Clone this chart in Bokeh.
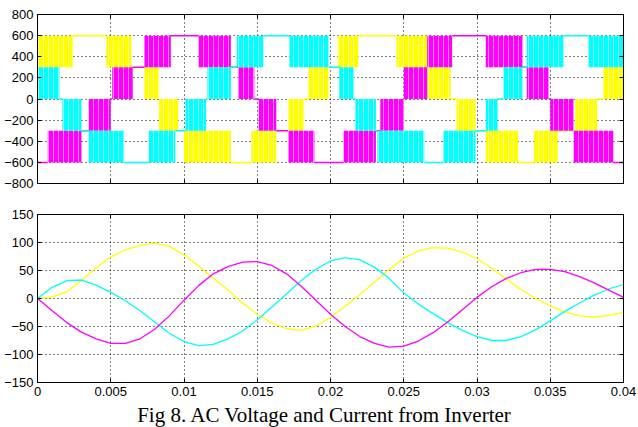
from bokeh.plotting import figure
from bokeh.models import Range1d, FixedTicker, LinearAxis, Div
from bokeh.layouts import column
from bokeh.embed import file_html
from bokeh.resources import INLINE

# ---------------- data ----------------
x_ticks = [0, 0.005, 0.01, 0.015, 0.02, 0.025, 0.03, 0.035, 0.04]
x_tick_labels = ["0", "0.005", "0.01", "0.015", "0.02", "0.025", "0.03", "0.035", "0.04"]
v_ticks = [-800, -600, -400, -200, 0, 200, 400, 600, 800]
i_ticks = [-150, -100, -50, 0, 50, 100, 150]

# Inverter phase voltages: switching bands (lo != hi) and flat levels (lo == hi)
yellow_edges = [0, 0.0024, 0.0047, 0.0064, 0.0073, 0.0083, 0.0096, 0.0100, 0.0132, 0.0146,
                0.0163, 0.0171, 0.0182, 0.0185, 0.0199, 0.0205, 0.0219, 0.0245, 0.0266, 0.0282,
                0.0286, 0.0299, 0.0306, 0.0328, 0.0339, 0.0355, 0.0367, 0.0382, 0.0386, 0.0400]
yellow_lo = [300, 600, 300, 300, 0, -300, -300, -600, -600, -600,
             -300, -300, 0, 0, 300, 300, 600, 300, 0, 0,
             -300, -300, -600, -600, -600, -300, -300, 0, 0]
yellow_hi = [600, 600, 600, 300, 300, 0, -300, -300, -600, -300,
             -300, 0, 0, 300, 300, 600, 600, 600, 300, 0,
             0, -300, -300, -600, -300, -300, 0, 0, 300]

magenta_edges = [0, 0.0007, 0.0030, 0.0035, 0.0050, 0.0051, 0.0065, 0.0073, 0.0091, 0.0110,
                 0.0132, 0.0137, 0.0148, 0.0151, 0.0163, 0.0171, 0.0189, 0.0209, 0.0231, 0.0234,
                 0.0250, 0.0266, 0.0283, 0.0306, 0.0331, 0.0334, 0.0349, 0.0350, 0.0366, 0.0393,
                 0.0400]
magenta_lo = [-600, -600, -300, -300, 0, 0, 300, 300, 600, 300,
              300, 0, 0, -300, -300, -600, -600, -600, -300, -300,
              0, 300, 600, 300, 300, 0, 0, -300, -600, -600]
magenta_hi = [-600, -300, -300, 0, 0, 300, 300, 600, 600, 600,
              300, 300, 0, 0, -300, -300, -600, -300, -300, 0,
              300, 600, 600, 600, 300, 300, 0, 0, -300, -600]

cyan_edges = [0, 0.0015, 0.0017, 0.0030, 0.0035, 0.0059, 0.0076, 0.0094, 0.0101, 0.0115,
              0.0116, 0.0132, 0.0136, 0.0154, 0.0172, 0.0199, 0.0206, 0.0216, 0.0217, 0.0231,
              0.0232, 0.0264, 0.0277, 0.0299, 0.0306, 0.0314, 0.0318, 0.0331, 0.0334, 0.0359,
              0.0376, 0.0400]
cyan_lo = [0, 0, -300, -300, -600, -600, -600, -300, -300, 0,
           0, 300, 300, 600, 300, 300, 0, 0, -300, -300,
           -600, -600, -600, -300, -300, 0, 0, 300, 300, 600,
           300]
cyan_hi = [300, 0, 0, -300, -300, -600, -300, -300, 0, 0,
           300, 300, 600, 600, 600, 300, 300, 0, 0, -300,
           -300, -600, -300, -300, 0, 0, 300, 300, 600, 600,
           600]

# Inverter phase currents
time = [0.000, 0.001, 0.002, 0.003, 0.004, 0.005, 0.006, 0.007, 0.008, 0.009,
        0.010, 0.011, 0.012, 0.013, 0.014, 0.015, 0.016, 0.017, 0.018, 0.019,
        0.020, 0.021, 0.022, 0.023, 0.024, 0.025, 0.026, 0.027, 0.028, 0.029,
        0.030, 0.031, 0.032, 0.033, 0.034, 0.035, 0.036, 0.037, 0.038, 0.039, 0.040]
i_yellow = [0, 3, 12, 32, 55, 74, 87, 95, 99, 93,
            78, 58, 36, 15, -8, -28, -44, -54, -57, -49,
            -34, -14, 7, 29, 52, 72, 85, 91, 90, 83,
            71, 54, 35, 16, 0, -13, -24, -31, -33, -30, -25]
i_cyan = [0, 20, 32, 33, 24, 11, -4, -22, -42, -62,
          -77, -84, -82, -72, -58, -38, -15, 8, 32, 52,
          67, 73, 69, 56, 36, 10, -10, -27, -43, -57,
          -68, -75, -75, -68, -56, -40, -23, -8, 6, 17, 25]
i_magenta = [0, -22, -43, -60, -72, -80, -80, -72, -55, -31,
             -3, 23, 44, 57, 65, 66, 59, 44, 22, -3,
             -28, -50, -68, -80, -87, -85, -76, -61, -42, -20,
             2, 21, 36, 46, 52, 52, 48, 39, 28, 15, 2]

YELLOW = "#FFFF00"
MAGENTA = "#FF00FF"
CYAN = "#00FFFF"
FONT = "Liberation Sans"


def hide_labels(ax):
    ax.major_label_text_color = None
    ax.major_label_text_alpha = 0
    ax.major_label_text_font_size = "1px"
    ax.major_label_standoff = 0


def style(p, yticks, show_xlabels):
    p.xaxis.ticker = FixedTicker(ticks=x_ticks)
    p.yaxis.ticker = FixedTicker(ticks=yticks)
    p.xaxis.major_label_overrides = dict(zip(x_ticks, x_tick_labels))
    p.add_layout(LinearAxis(ticker=FixedTicker(ticks=x_ticks)), "above")
    p.add_layout(LinearAxis(ticker=FixedTicker(ticks=yticks)), "right")
    for ax in p.axis:
        ax.major_tick_in = 4
        ax.major_tick_out = 0
        ax.minor_tick_line_color = None
        ax.axis_line_color = "black"
        ax.major_tick_line_color = "black"
        ax.major_label_text_font = FONT
        ax.major_label_text_font_size = "13px"
        ax.major_label_text_color = "black"
        ax.major_label_standoff = 4
    hide_labels(p.above[0])
    hide_labels(p.right[0])
    if not show_xlabels:
        hide_labels(p.below[0])
    p.xgrid.ticker = FixedTicker(ticks=x_ticks)
    p.ygrid.ticker = FixedTicker(ticks=yticks)
    for g in (p.xgrid, p.ygrid):
        g.grid_line_color = "black"
        g.grid_line_dash = "1 3"
        g.grid_line_width = 1
    p.outline_line_color = "black"
    p.outline_line_alpha = 1
    p.background_fill_color = "white"
    p.border_fill_color = "white"


p1 = figure(frame_width=586, frame_height=169, x_range=Range1d(0, 0.04), y_range=Range1d(-800, 800),
            output_backend="svg", toolbar_location=None,
            min_border_left=37, min_border_right=15, min_border_top=14, min_border_bottom=17)
style(p1, v_ticks, False)

for edges, lo, hi, col in [(yellow_edges, yellow_lo, yellow_hi, YELLOW),
                           (magenta_edges, magenta_lo, magenta_hi, MAGENTA),
                           (cyan_edges, cyan_lo, cyan_hi, CYAN)]:
    bl, br, bb, bt = [], [], [], []
    fx0, fx1, fy = [], [], []
    for k in range(len(lo)):
        if lo[k] != hi[k]:
            bl.append(edges[k]); br.append(edges[k + 1]); bb.append(lo[k]); bt.append(hi[k])
        else:
            fx0.append(edges[k]); fx1.append(edges[k + 1]); fy.append(lo[k])
    p1.quad(left=bl, right=br, bottom=bb, top=bt, fill_color=col, fill_alpha=1, line_color=None,
            hatch_pattern="vertical_line", hatch_color="white", hatch_alpha=0.55,
            hatch_scale=5, hatch_weight=1)
    p1.segment(x0=fx0, y0=fy, x1=fx1, y1=fy, line_color=col, line_width=1.5)

p2 = figure(frame_width=586, frame_height=168, x_range=Range1d(0, 0.04), y_range=Range1d(-150, 150),
            output_backend="svg", toolbar_location=None,
            min_border_left=37, min_border_right=15, min_border_top=14, min_border_bottom=20)
style(p2, i_ticks, True)
p2.line(time, i_yellow, line_color=YELLOW, line_width=1.3)
p2.line(time, i_cyan, line_color=CYAN, line_width=1.3)
p2.line(time, i_magenta, line_color=MAGENTA, line_width=1.3)

caption = Div(text="Fig 8. AC Voltage and Current from Inverter", width=638, height=25,
              styles={"text-align": "center", "font-family": "'Liberation Serif', 'Times New Roman', serif",
                      "font-size": "21px", "color": "black", "line-height": "16px", "width": "638px",
                      "white-space": "nowrap"})

layout = column(p1, p2, caption, spacing=0)
open("out.html", "w").write(file_html(layout, INLINE))
